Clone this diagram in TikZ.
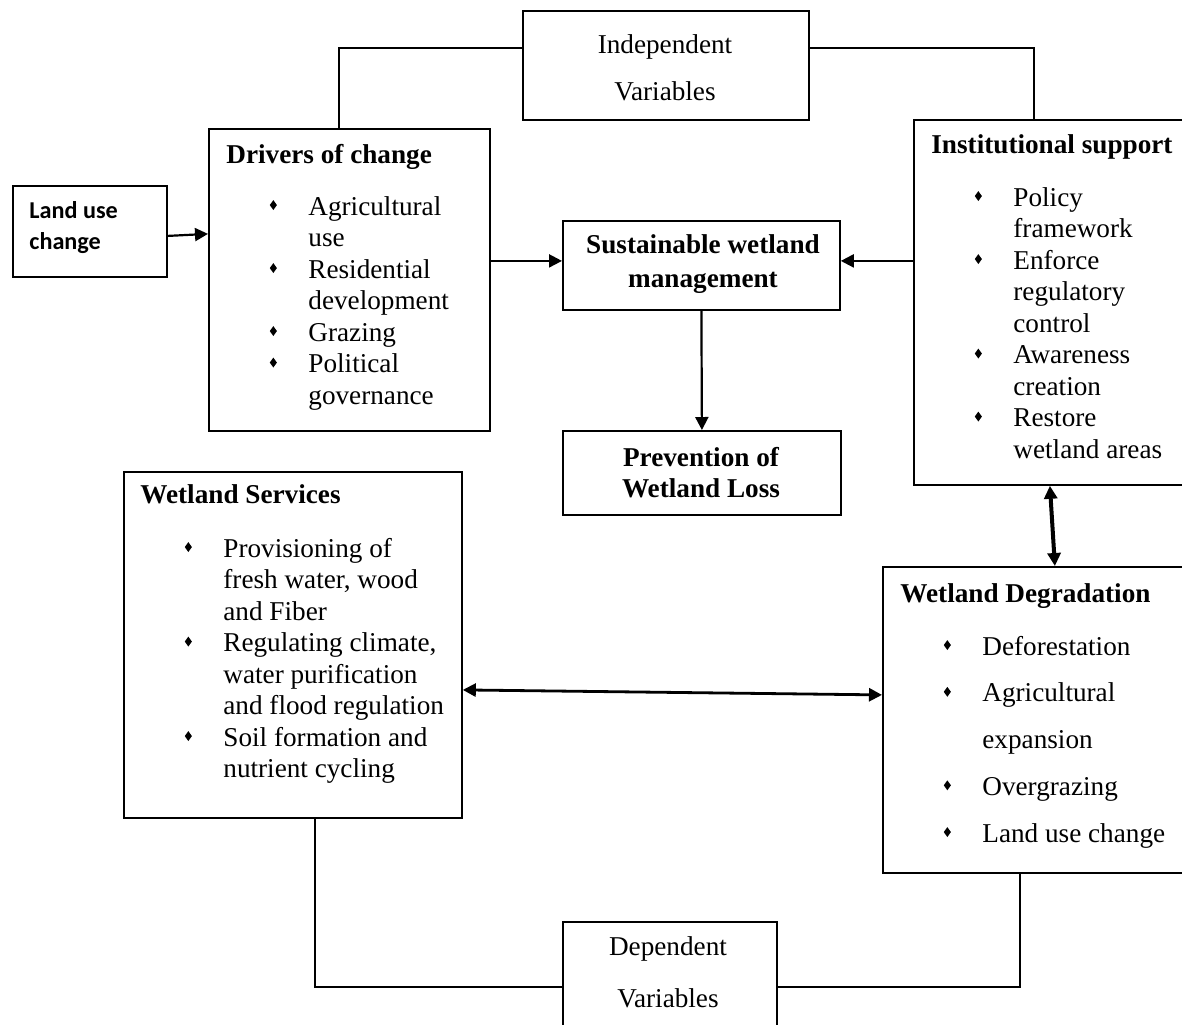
\documentclass[tikz,border=0pt]{standalone}
\usepackage{fontspec}
\setmainfont{Liberation Serif}
\newfontfamily\calib{Carlito}
\usetikzlibrary{calc,arrows.meta}
\newcommand{\bul}{\leavevmode\llap{\raisebox{2.5pt}{\scalebox{0.72}[1]{\rotatebox{45}{\rule{3.5pt}{3.5pt}}}}\hspace{15.75pt}}}
\newcommand{\txt}{\fontsize{13.6}{15.75}\selectfont}
\tikzset{
  box/.style={draw, line width=0.9pt, rectangle, inner sep=0pt, anchor=north west},
  lbl/.style={inner sep=0pt, anchor=base west},
  clbl/.style={inner sep=0pt, anchor=base},
  conn/.style={line width=0.9pt},
  arr/.style={line width=1.1pt, -{Triangle[length=6.5pt,width=6.5pt]}},
  darr/.style={line width=1.2pt, {Triangle[length=6.5pt,width=6.5pt]}-{Triangle[length=6.5pt,width=6.5pt]}}
}
\begin{document}
\begin{tikzpicture}[x=0.5pt,y=-0.5pt]
\useasboundingbox (0,0) rectangle (1182,1024);
\clip (0,0) rectangle (1182,1024);
\fill[white] (0,0) rectangle (1182,1024);
% boxes
\node[box, minimum width=77pt, minimum height=45.5pt] (land) at (12,185) {};
\node[box, minimum width=140.5pt, minimum height=151pt] (drivers) at (208,128) {};
\node[box, minimum width=143pt, minimum height=54.5pt] (indep) at (522,10) {};
\node[box, minimum width=138.5pt, minimum height=182.5pt] (inst) at (913,119) {};
\node[box, minimum width=138.5pt, minimum height=44.5pt] (swm) at (562,220) {};
\node[box, minimum width=139pt, minimum height=42pt] (prev) at (562,430) {};
\node[box, minimum width=169pt, minimum height=173pt] (serv) at (123,471) {};
\node[box, minimum width=154pt, minimum height=153pt] (degr) at (882,566) {};
\node[box, minimum width=107pt, minimum height=54.5pt] (dep) at (562,921) {};
% texts
\node[lbl] (landtxt) at (29,218) {\parbox[t]{70pt}{\calib\bfseries\fontsize{12.1}{15.5}\selectfont Land use\\change}};
\node[clbl] (indeptxt) at (665,53) {\parbox[t]{130pt}{\centering\fontsize{13.6}{23.5}\selectfont Independent\\Variables}};
\node[clbl] (deptxt) at (668,955) {\parbox[t]{100pt}{\centering\fontsize{13.6}{26}\selectfont Dependent\\Variables}};
\node[lbl] (drvtitle) at (226,163) {\txt\bfseries Drivers of change};
\node[lbl] (drvlist) at (308,215) {\parbox[t]{90pt}{\txt
\bul Agricultural\\
use\\
\bul Residential\\
development\\
\bul Grazing\\
\bul Political\\
governance}};
\node[clbl] (swmtxt) at (703,253) {\parbox[t]{136pt}{\centering\fontsize{13.6}{17}\selectfont\bfseries Sustainable wetland\\management}};
\node[clbl] (prevtxt) at (701,466) {\parbox[t]{136pt}{\centering\fontsize{13.6}{15.5}\selectfont\bfseries Prevention of\\Wetland Loss}};
\node[lbl] (insttitle) at (931,153) {\txt\bfseries Institutional support};
\node[lbl] (instlist) at (1013,206) {\parbox[t]{90pt}{\txt
\bul Policy\\
framework\\
\bul Enforce\\
regulatory\\
control\\
\bul Awareness\\
creation\\
\bul Restore\\
wetland areas}};
\node[lbl] (servtitle) at (140,503) {\txt\bfseries Wetland Services};
\node[lbl] (servlist) at (223,557) {\parbox[t]{130pt}{\txt
\bul Provisioning of\\
fresh water, wood\\
and Fiber\\
\bul Regulating climate,\\
water purification\\
and flood regulation\\
\bul Soil formation and\\
nutrient cycling}};
\node[lbl] (degrtitle) at (900,602) {\txt\bfseries Wetland Degradation};
\node[lbl] (degrlist) at (982,655) {\parbox[t]{100pt}{\fontsize{13.6}{23.375}\selectfont
\bul Deforestation\\
\bul Agricultural\\
expansion\\
\bul Overgrazing\\
\bul Land use change}};
% connectors
\draw[arr] ($(land.east)+(0,4.5)$) -- ($(drivers.west)+(0,-46)$);
\draw[arr] ($(drivers.east)+(0,-19)$) -- ($(swm.west)+(0,-4.5)$);
\draw[arr] ($(inst.west)+(0,-41.5)$) -- ($(swm.east)+(0,-4.5)$);
\draw[arr] (swm.south) -- (prev.north);
\draw[darr, line width=2pt] ($(inst.south)+(-2.5,0)$) -- ($(degr.north)+(18,0)$);
\draw[darr, line width=1.4pt] ($(serv.east)+(0,45)$) -- ($(degr.west)+(0,-25)$);
\draw[conn] ($(indep.west)+(0,-17.5)$) -| ($(drivers.north)+(-10.5,0)$);
\draw[conn] ($(indep.east)+(0,-17.5)$) -| ($(inst.north)+(-18.5,0)$);
\draw[conn] ($(dep.west)+(0,10.5)$) -| ($(serv.south)+(22,0)$);
\draw[conn] ($(dep.east)+(0,10.5)$) -| ($(degr.south)+(-17,0)$);
\end{tikzpicture}
\end{document}
